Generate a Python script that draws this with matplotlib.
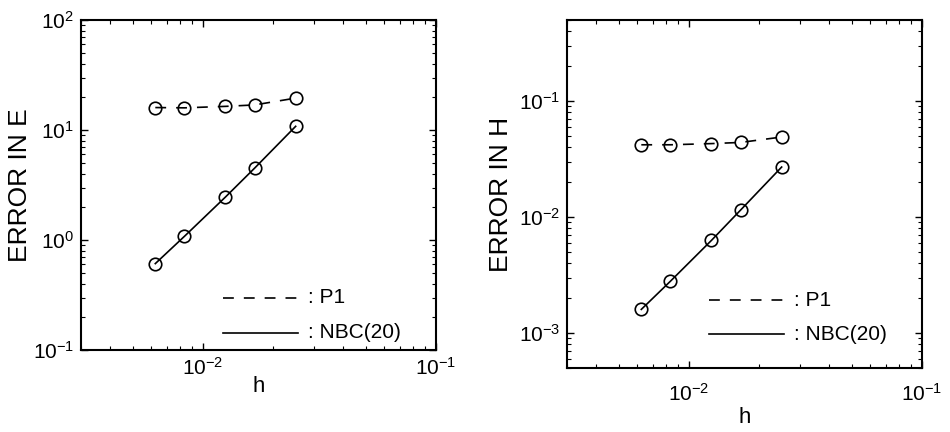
import matplotlib
matplotlib.use("Agg")
import matplotlib.pyplot as plt
from matplotlib.ticker import LogLocator

plt.rcParams['font.family'] = ['Liberation Sans', 'DejaVu Sans']
plt.rcParams['mathtext.fontset'] = 'custom'
plt.rcParams['mathtext.rm'] = 'Liberation Sans'
plt.rcParams['mathtext.it'] = 'Liberation Sans'
plt.rcParams['mathtext.bf'] = 'Liberation Sans:bold'

# mesh sizes
h = [1/160, 1/120, 1/80, 1/60, 1/40]

# error in E
err_e_p1 = [16.0, 15.9, 16.4, 16.9, 19.5]
err_e_nbc = [0.61, 1.08, 2.46, 4.5, 10.8]

# error in H
err_h_p1 = [0.042, 0.042, 0.043, 0.044, 0.049]
err_h_nbc = [0.0016, 0.0028, 0.0063, 0.0115, 0.027]

legend_labels = [': P1', ': NBC(20)']

DASH = (0, (6.5, 6))

fig = plt.figure(figsize=(9.5, 4.32), dpi=100)
ax1 = fig.add_axes([81/950, 82/432, 355/950, 330/432])
ax2 = fig.add_axes([567/950, 64/432, 355/950, 348/432])


def style_axes(ax, ylim, ylabel, label_x, xpad, hpad):
    ax.set_xscale('log')
    ax.set_yscale('log')
    ax.set_xlim(0.003, 0.1)
    ax.set_ylim(*ylim)
    ax.xaxis.set_major_locator(LogLocator(base=10, numticks=10))
    ax.yaxis.set_major_locator(LogLocator(base=10, numticks=10))
    ax.xaxis.set_minor_locator(LogLocator(base=10, subs=range(2, 10), numticks=10))
    ax.yaxis.set_minor_locator(LogLocator(base=10, subs=range(2, 10), numticks=10))
    ax.tick_params(which='both', direction='in', top=True, right=True,
                   labelsize=15, pad=5)
    ax.tick_params(axis='x', which='both', pad=xpad)
    ax.tick_params(which='major', length=5, width=1)
    ax.tick_params(which='minor', length=3, width=0.8)
    for s in ax.spines.values():
        s.set_linewidth(1.5)
    ax.set_xlabel('h', fontsize=16, labelpad=hpad)
    ax.set_ylabel(ylabel, fontsize=19)
    ax.yaxis.set_label_coords(label_x, 0.5)


def draw(ax, p1, nbc, legend_y):
    ax.plot(h, p1, color='black', linestyle=DASH, linewidth=1.2,
            marker='o', markersize=9, markerfacecolor='none', markeredgewidth=1.2)
    ax.plot(h, nbc, color='black', linestyle='-', linewidth=1.2,
            marker='o', markersize=9, markerfacecolor='none', markeredgewidth=1.2)
    styles = [DASH, '-']
    for i, lbl in enumerate(legend_labels):
        y = legend_y[i]
        ax.plot([0.40, 0.61], [y, y], transform=ax.transAxes, color='black',
                linestyle=styles[i], linewidth=1.2)
        ax.text(0.64, y, lbl, transform=ax.transAxes, fontsize=15,
                va='center', ha='left')


draw(ax1, err_e_p1, err_e_nbc, [0.158, 0.052])
style_axes(ax1, (0.1, 100), 'ERROR IN E', -0.138, 5, -2)

draw(ax2, err_h_p1, err_h_nbc, [0.195, 0.097])
style_axes(ax2, (5e-4, 0.5), 'ERROR IN H', -0.152, 11, 1)

fig.savefig('out.png', dpi=100)
